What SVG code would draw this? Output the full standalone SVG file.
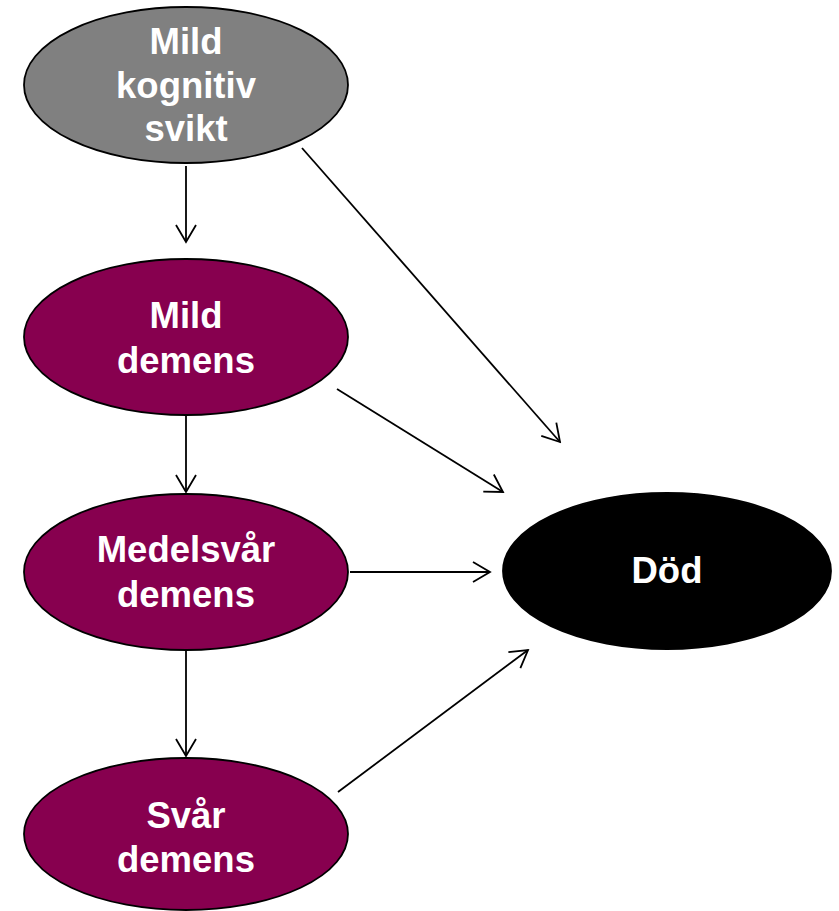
<svg xmlns="http://www.w3.org/2000/svg" width="839" height="911" viewBox="0 0 839 911">
<style>
.n{stroke:#000;stroke-width:1.8}
.t{font-family:"Liberation Sans",Arial,sans-serif;font-weight:bold;font-size:36.5px;fill:#fff;text-anchor:middle}
.c{stroke:#000;stroke-width:1.8;fill:none;marker-end:url(#ah)}
</style>
<defs>
<marker id="ah" markerUnits="userSpaceOnUse" viewBox="0 0 20 24" refX="18" refY="12" markerWidth="20" markerHeight="24" orient="auto">
<path d="M1,2 L18,12 L1,22" fill="none" stroke="#000" stroke-width="1.8"/>
</marker>
</defs>
<g id="connectors">
<line class="c" x1="186" y1="166" x2="186" y2="242"/>
<line class="c" x1="186" y1="416" x2="186" y2="492"/>
<line class="c" x1="186" y1="651" x2="186" y2="756"/>
<line class="c" x1="302" y1="148" x2="560" y2="442"/>
<line class="c" x1="337" y1="389" x2="503" y2="492"/>
<line class="c" x1="350" y1="572" x2="490" y2="572"/>
<line class="c" x1="338" y1="792" x2="528" y2="650"/>
</g>
<g id="mild-kognitiv-svikt">
<ellipse class="n" cx="186" cy="85" rx="162" ry="78" fill="#808080"/>
<text class="t" x="186" y="54">Mild</text>
<text class="t" x="186" y="98">kognitiv</text>
<text class="t" x="186" y="141">svikt</text>
</g>
<g id="mild-demens">
<ellipse class="n" cx="186" cy="337" rx="162" ry="78" fill="#87004F"/>
<text class="t" x="186" y="328">Mild</text>
<text class="t" x="186" y="373">demens</text>
</g>
<g id="medelsvar-demens">
<ellipse class="n" cx="186" cy="572" rx="162" ry="78" fill="#87004F"/>
<text class="t" x="186" y="562">Medelsvår</text>
<text class="t" x="186" y="607">demens</text>
</g>
<g id="svar-demens">
<ellipse class="n" cx="186" cy="834" rx="162" ry="76" fill="#87004F"/>
<text class="t" x="186" y="828">Svår</text>
<text class="t" x="186" y="872">demens</text>
</g>
<g id="dod">
<ellipse class="n" cx="667" cy="571" rx="164" ry="78" fill="#000"/>
<text class="t" x="667" y="583">Död</text>
</g>
</svg>
